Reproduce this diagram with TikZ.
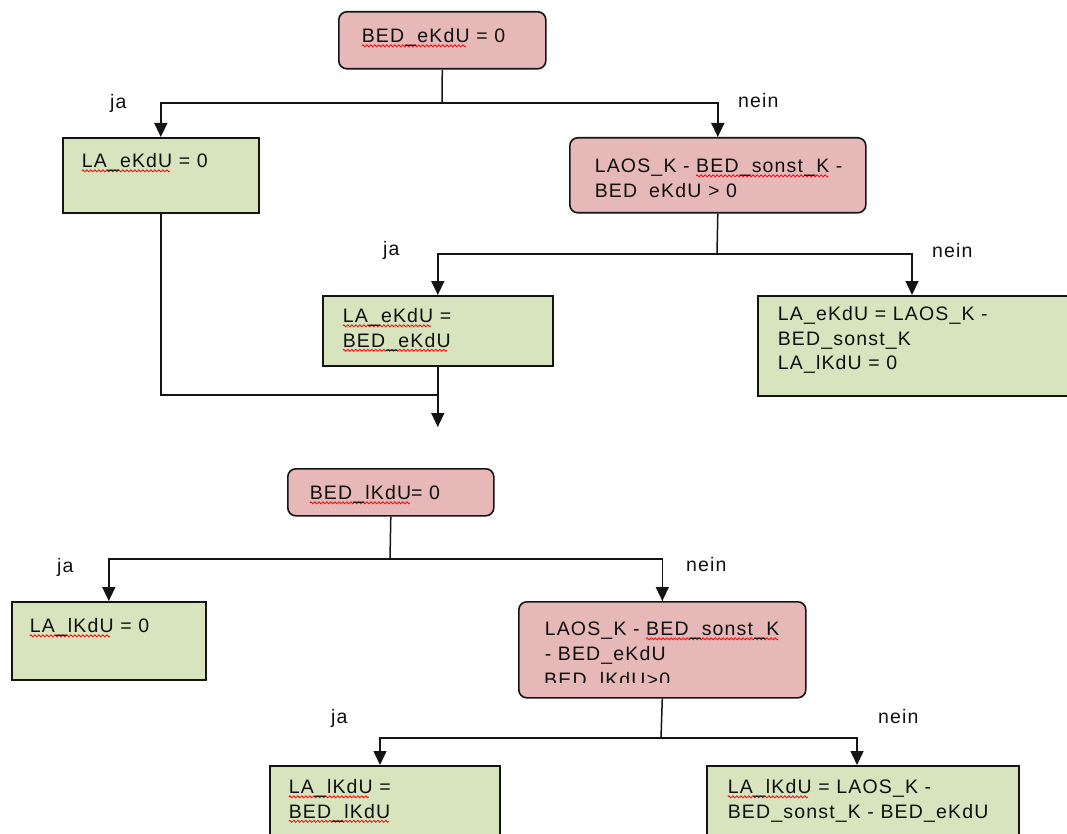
\documentclass[tikz,border=0pt]{standalone}
\usepackage{fontspec}
\setmainfont{Liberation Sans}[LetterSpace=6]
\usetikzlibrary{arrows.meta}

\definecolor{condfill}{RGB}{230,184,183}
\definecolor{actfill}{RGB}{215,228,189}
\definecolor{inkline}{RGB}{20,20,20}
\definecolor{inktext}{RGB}{15,15,15}

% red wavy underline for flagged words, built from a repeated wave piece
\newsavebox\wavepiece
\newcommand\spell[1]{\setbox0\hbox{#1}%
  \rlap{\raisebox{-3pt}{\hbox to\wd0{\leaders\copy\wavepiece\hfil}}}\box0\relax}

% fixed-size text cell: width, height, first baseline offset, left padding, text
\newcommand\cellbox[5]{\parbox[t][#2pt][t]{#1pt}{\leftskip=#4pt\relax\rule{0pt}{#3pt}#5}}

\tikzset{
  txt/.style={font=\fontsize{19.5}{24.5}\selectfont, text=inktext},
  cond/.style={txt, draw=inkline, line width=1.6pt, fill=condfill, rounded corners=8pt,
                inner sep=0pt, anchor=north west},
  act/.style={txt, draw=inkline, line width=1.6pt, fill=actfill,
                inner sep=0pt, anchor=north west},
  lbl/.style={txt, anchor=base west, inner sep=0pt},
  link/.style={draw=inkline, line width=1.5pt},
  flow/.style={link, -{Triangle[width=13pt,length=14pt]}}
}

\begin{document}
\sbox\wavepiece{\begin{pgfpicture}
  \pgfpathrectangle{\pgfpoint{0pt}{-1.2pt}}{\pgfpoint{4pt}{2.4pt}}
  \pgfusepath{use as bounding box}
  \pgfsetbaseline{0pt}
  \pgfsetlinewidth{0.8pt}
  \pgfsetstrokecolor{red}
  \pgfpathmoveto{\pgfpoint{0pt}{0pt}}
  \pgfpathsine{\pgfpoint{1pt}{1pt}}
  \pgfpathcosine{\pgfpoint{1pt}{-1pt}}
  \pgfpathsine{\pgfpoint{1pt}{-1pt}}
  \pgfpathcosine{\pgfpoint{1pt}{1pt}}
  \pgfusepath{stroke}
\end{pgfpicture}}%
\begin{tikzpicture}[x=1pt, y=-1pt]
\clip (0,0) rectangle (1067,834);
\fill[white] (0,0) rectangle (1067,834);

% first decision block
\node[cond] (b1) at (338,11) {\cellbox{207}{57}{31}{23}{\spell{BED\_eKdU} = 0}};
\node[act]  (b2) at (62,137) {\cellbox{196}{75}{30}{19}{\spell{LA\_eKdU} = 0}};
\node[cond] (b3) at (569,137) {\cellbox{296}{75}{35}{25}{LAOS\_K - \spell{BED\_sonst\_K} -\\BED\hspace{12pt}eKdU > 0}};
\node[act]  (b4) at (322,295) {\cellbox{230}{70}{27}{20}{\spell{LA\_eKdU} =\\\spell{BED\_eKdU}}};
\node[act]  (b5) at (757,295) {\cellbox{313}{100}{25}{20}{LA\_eKdU = LAOS\_K -\\BED\_sonst\_K\\LA\_lKdU = 0}};

% second decision block
\node[cond] (b6) at (287,468) {\cellbox{206}{47}{31}{22}{\spell{BED\_lKdU}= 0}};
\node[act]  (b7) at (11,601) {\cellbox{194}{78}{31}{18}{\spell{LA\_lKdU} = 0}};
\node[cond] (b8) at (518,601) {\cellbox{287}{96}{34}{26}{LAOS\_K - \spell{BED\_sonst\_K}\\- BED\_eKdU}};
\begin{scope}
  \clip (520,603) rectangle (803,682);
  \node[lbl] (b8c) at (544,686) {BED\_lKdU>0};
\end{scope}
\node[act]  (b9) at (269,765) {\cellbox{230}{100}{28}{19}{\spell{LA\_lKdU} =\\\spell{BED\_lKdU}}};
\node[act]  (b10) at (706,765) {\cellbox{312}{100}{28}{21}{\spell{LA\_lKdU} = LAOS\_K -\\BED\_sonst\_K - BED\_eKdU}};

% branch labels
\node[lbl] (l1) at (110,109) {ja};
\node[lbl] (l2) at (738,108) {nein};
\node[lbl] (l3) at (383,255) {ja};
\node[lbl] (l4) at (932,257) {nein};
\node[lbl] (l5) at (57,572) {ja};
\node[lbl] (l6) at (686,571) {nein};
\node[lbl] (l7) at (331,723) {ja};
\node[lbl] (l8) at (878,723) {nein};

% junctions
\coordinate (j1) at (442,103);
\coordinate (j2) at (717,254);
\coordinate (j3) at (b4.south |- 0,395);
\coordinate (jout) at (b4.south |- 0,427);
\coordinate (j4) at (390,559);
\coordinate (j5) at (661,738);

% connectors
\draw[link] (b1.south) -- (j1);
\draw[flow] (j1) -| (b2.north);
\draw[flow] (j1) -| (b3.north);
\draw[link] (b3.south) -- (j2);
\draw[flow] (j2) -| (b4.north);
\draw[flow] (j2) -| ([xshift=155pt]b5.north west);
\draw[link] (b2.south) |- (j3);
\draw[flow] (b4.south) -- (jout);

\draw[link] (b6.south) -- (j4);
\draw[flow] (j4) -| (b7.north);
\draw[flow] (j4) -| (b8.north);
\draw[link] (b8.south) -- (j5);
\draw[flow] (j5) -| ([xshift=111pt]b9.north west);
\draw[flow] (j5) -| ([xshift=151pt]b10.north west);
\end{tikzpicture}
\end{document}
